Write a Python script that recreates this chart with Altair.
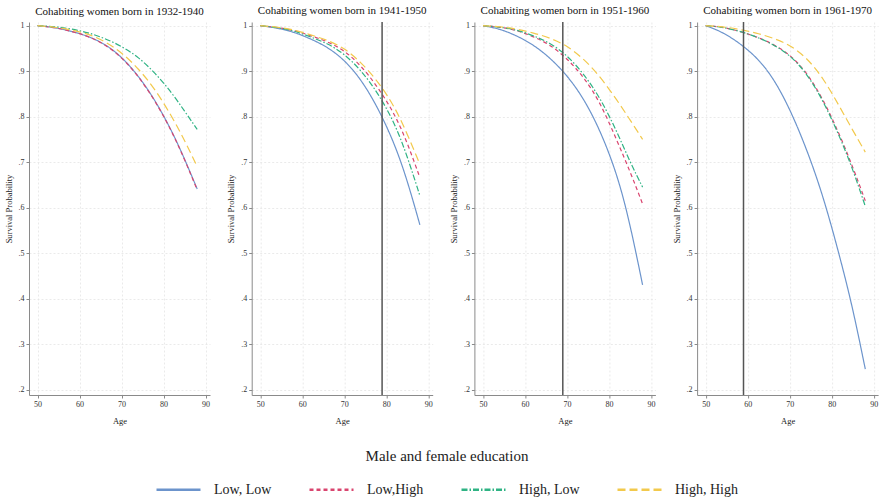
import altair as alt
import pandas as pd

AGES = [50, 54, 58, 62, 66, 70, 74, 78, 82, 85, 88]
GROUPS = ["Low, Low", "Low,High", "High, Low", "High, High"]
COLORS = ["#6c94cc", "#d9456f", "#2fb384", "#f2c94c"]
DASHES = [[1, 0], [4, 3], [6, 2, 1.5, 2], [8, 4]]
TITLES = [
    "Cohabiting women born in 1932-1940",
    "Cohabiting women born in 1941-1950",
    "Cohabiting women born in 1951-1960",
    "Cohabiting women born in 1961-1970",
]
REF_AGES = [None, 79, 69, 59]
X_TICKS = [50, 60, 70, 80, 90]
Y_TICKS = [0.2, 0.3, 0.4, 0.5, 0.6, 0.7, 0.8, 0.9, 1.0]

C1 = {
    "Low, Low":   [1.0, 0.996, 0.988, 0.977, 0.960, 0.932, 0.890, 0.836, 0.768, 0.707, 0.641],
    "Low,High":   [1.0, 0.996, 0.988, 0.977, 0.959, 0.931, 0.889, 0.835, 0.767, 0.706, 0.639],
    "High, Low":  [1.0, 0.998, 0.993, 0.985, 0.972, 0.955, 0.931, 0.896, 0.852, 0.812, 0.772],
    "High, High": [1.0, 0.997, 0.991, 0.982, 0.966, 0.941, 0.906, 0.860, 0.800, 0.748, 0.690],
}
C2 = {
    "Low, Low":   [1.0, 0.995, 0.986, 0.971, 0.953, 0.925, 0.882, 0.820, 0.740, 0.660, 0.562],
    "Low,High":   [1.0, 0.996, 0.990, 0.978, 0.965, 0.946, 0.912, 0.865, 0.806, 0.743, 0.666],
    "High, Low":  [1.0, 0.996, 0.989, 0.975, 0.961, 0.938, 0.902, 0.852, 0.786, 0.713, 0.626],
    "High, High": [1.0, 0.997, 0.991, 0.980, 0.968, 0.951, 0.919, 0.878, 0.822, 0.762, 0.695],
}
C3 = {
    "Low, Low":   [1.0, 0.993, 0.978, 0.958, 0.929, 0.891, 0.840, 0.768, 0.672, 0.565, 0.430],
    "Low,High":   [1.0, 0.997, 0.990, 0.976, 0.958, 0.928, 0.887, 0.830, 0.745, 0.680, 0.608],
    "High, Low":  [1.0, 0.997, 0.991, 0.978, 0.962, 0.935, 0.894, 0.840, 0.765, 0.700, 0.645],
    "High, High": [1.0, 0.998, 0.993, 0.984, 0.973, 0.956, 0.927, 0.887, 0.835, 0.793, 0.750],
}
C4 = {
    "Low, Low":   [1.0, 0.986, 0.962, 0.932, 0.887, 0.818, 0.730, 0.625, 0.490, 0.380, 0.245],
    "Low,High":   [1.0, 0.997, 0.988, 0.976, 0.960, 0.937, 0.898, 0.838, 0.758, 0.690, 0.615],
    "High, Low":  [1.0, 0.997, 0.988, 0.976, 0.959, 0.936, 0.896, 0.835, 0.754, 0.685, 0.603],
    "High, High": [1.0, 0.998, 0.992, 0.984, 0.973, 0.958, 0.930, 0.885, 0.820, 0.770, 0.722],
}
COHORTS = [C1, C2, C3, C4]

SERIF = "Liberation Serif"
PW, PH = 181, 373

legend = alt.Legend(
    title="Male and female education",
    orient="none",
    legendX=126,
    legendY=427,
    direction="horizontal",
    titleAnchor="middle",
    titleOrient="top",
    titleFont=SERIF,
    titleFontSize=15,
    titleFontWeight="normal",
    titleColor="#222222",
    titlePadding=2,
    labelFont=SERIF,
    labelFontSize=14,
    labelColor="#222222",
    labelOffset=12,
    columnPadding=32,
    symbolType="stroke",
    symbolSize=1936,
    symbolStrokeWidth=2.5,
)


def panel(i):
    rows = []
    for g in GROUPS:
        for a, v in zip(AGES, COHORTS[i][g]):
            rows.append({"age": a, "p": v, "group": g, "k": GROUPS.index(g)})
    df = pd.DataFrame(rows)
    x = alt.X(
        "age:Q",
        scale=alt.Scale(domain=[47.95, 91.05], nice=False, zero=False),
        axis=alt.Axis(values=X_TICKS, title="Age", format="d"),
    )
    y = alt.Y(
        "p:Q",
        scale=alt.Scale(domain=[0.188, 1.008], nice=False, zero=False),
        axis=alt.Axis(
            values=Y_TICKS,
            title="Survival Probability",
            labelExpr="datum.value >= 0.999 ? '1' : replace(format(datum.value, '.1f'), '0.', '.')",
        ),
    )
    lines = alt.Chart(df).mark_line(interpolate="basis", strokeWidth=1.2).encode(
        x=x,
        y=y,
        color=alt.Color("group:N", scale=alt.Scale(domain=GROUPS, range=COLORS), legend=legend),
        strokeDash=alt.StrokeDash("group:N", scale=alt.Scale(domain=GROUPS, range=DASHES), legend=legend),
        order="k:Q",
    )
    layers = [lines]
    if REF_AGES[i] is not None:
        ref = alt.Chart(pd.DataFrame({"age": [REF_AGES[i]]})).mark_rule(
            color="#555555", strokeWidth=1.5
        ).encode(x=alt.X("age:Q"))
        layers.append(ref)
    return alt.layer(*layers).properties(
        width=PW,
        height=PH,
        title=alt.TitleParams(TITLES[i], font=SERIF, fontSize=11, fontWeight="normal",
                              color="#111111", anchor="middle", offset=5),
    )


chart = alt.hconcat(*[panel(i) for i in range(4)], spacing=41.7, bounds="flush").properties(
    padding={"left": 4, "top": 5, "right": 0, "bottom": 0},
    background="white",
).configure_view(stroke=None).configure_axis(
    domainColor="#8a8a8a",
    tickColor="#8a8a8a",
    tickSize=3,
    gridColor="#e4e4e4",
    gridDash=[2, 2],
    gridWidth=0.8,
    labelFont=SERIF,
    labelFontSize=8,
    labelColor="#333333",
    labelPadding=2,
    titleFont=SERIF,
    titleFontSize=8.5,
    titleFontWeight="normal",
    titleColor="#222222",
).configure_axisY(titlePadding=5, labelPadding=2).configure_axisX(titlePadding=8, labelPadding=2)

chart.save("out.html", embed_options={"renderer": "svg", "actions": False})
